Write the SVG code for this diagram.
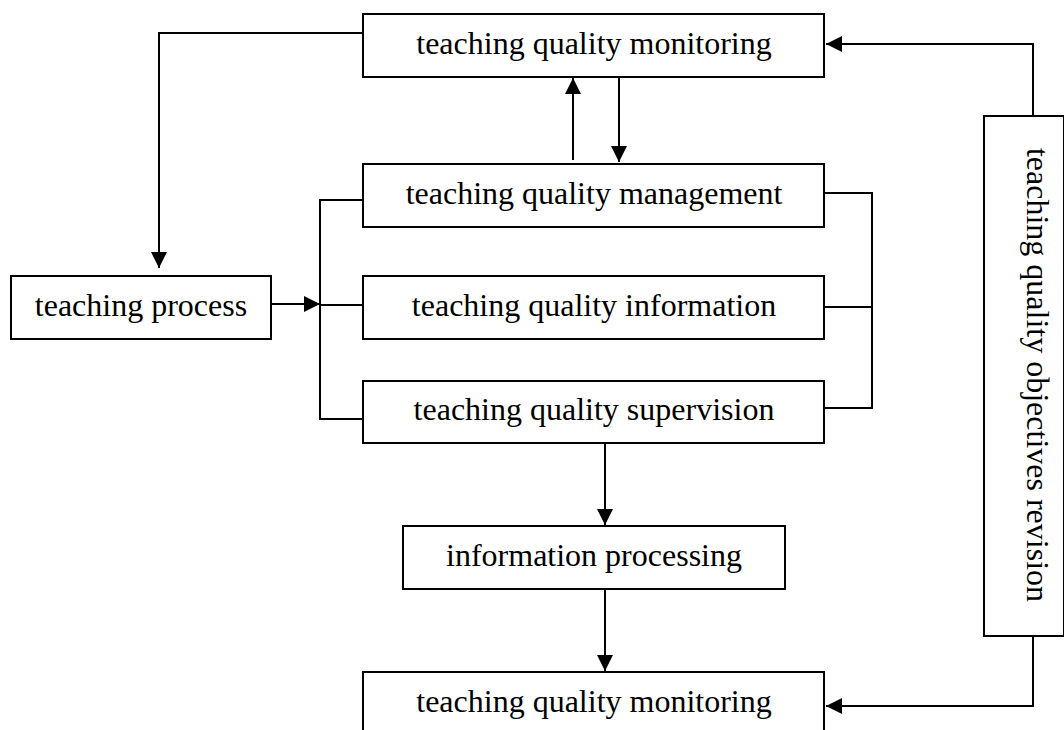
<svg xmlns="http://www.w3.org/2000/svg" width="1064" height="730" viewBox="0 0 1064 730">
<defs>
<marker id="ah" viewBox="0 0 10 10" refX="10" refY="5" markerWidth="16" markerHeight="16" markerUnits="userSpaceOnUse" orient="auto">
<path d="M0,0 L10,5 L0,10 Z" fill="#000"/>
</marker>
<style>
.box{fill:#fff;stroke:#000;stroke-width:2}
.t{font-family:"Liberation Serif","Times New Roman",serif;font-size:32px;fill:#000;text-anchor:middle}
.c{fill:none;stroke:#000;stroke-width:2}
</style>
</defs>
<rect width="1064" height="730" fill="#fff"/>
<g id="connectors">
<polyline class="c" points="363,33 159,33 159,268" marker-end="url(#ah)"/>
<line class="c" x1="573" y1="160" x2="573" y2="78" marker-end="url(#ah)"/>
<line class="c" x1="619" y1="78" x2="619" y2="162" marker-end="url(#ah)"/>
<line class="c" x1="271" y1="304" x2="320" y2="304" marker-end="url(#ah)"/>
<polyline class="c" points="367,200 320,200 320,419 367,419"/>
<line class="c" x1="320" y1="305" x2="367" y2="305"/>
<polyline class="c" points="824,193 872,193 872,408 824,408"/>
<line class="c" x1="824" y1="307" x2="872" y2="307"/>
<polyline class="c" points="1033,116 1033,44 826,44" marker-end="url(#ah)"/>
<polyline class="c" points="1033,636 1033,706 826,706" marker-end="url(#ah)"/>
<line class="c" x1="605" y1="443" x2="605" y2="525" marker-end="url(#ah)"/>
<line class="c" x1="605" y1="589" x2="605" y2="671" marker-end="url(#ah)"/>
</g>
<g id="monitoring-top">
<rect class="box" x="363" y="14" width="461" height="63"/>
<text class="t" x="594" y="54">teaching quality monitoring</text>
</g>
<g id="management">
<rect class="box" x="363" y="164" width="461" height="63"/>
<text class="t" x="594" y="204">teaching quality management</text>
</g>
<g id="information">
<rect class="box" x="363" y="276" width="461" height="63"/>
<text class="t" x="594" y="316">teaching quality information</text>
</g>
<g id="supervision">
<rect class="box" x="363" y="381" width="461" height="62"/>
<text class="t" x="594" y="420">teaching quality supervision</text>
</g>
<g id="process">
<rect class="box" x="11" y="276" width="260" height="63"/>
<text class="t" x="141" y="316">teaching process</text>
</g>
<g id="info-processing">
<rect class="box" x="403" y="526" width="382" height="63"/>
<text class="t" x="594" y="566">information processing</text>
</g>
<g id="monitoring-bottom">
<rect class="box" x="363" y="672" width="461" height="70"/>
<text class="t" x="594" y="712">teaching quality monitoring</text>
</g>
<g id="objectives-revision">
<rect class="box" x="984" y="116" width="80" height="520"/>
<text class="t" transform="translate(1027,375) rotate(90)" x="0" y="0">teaching quality objectives revision</text>
</g>
</svg>
